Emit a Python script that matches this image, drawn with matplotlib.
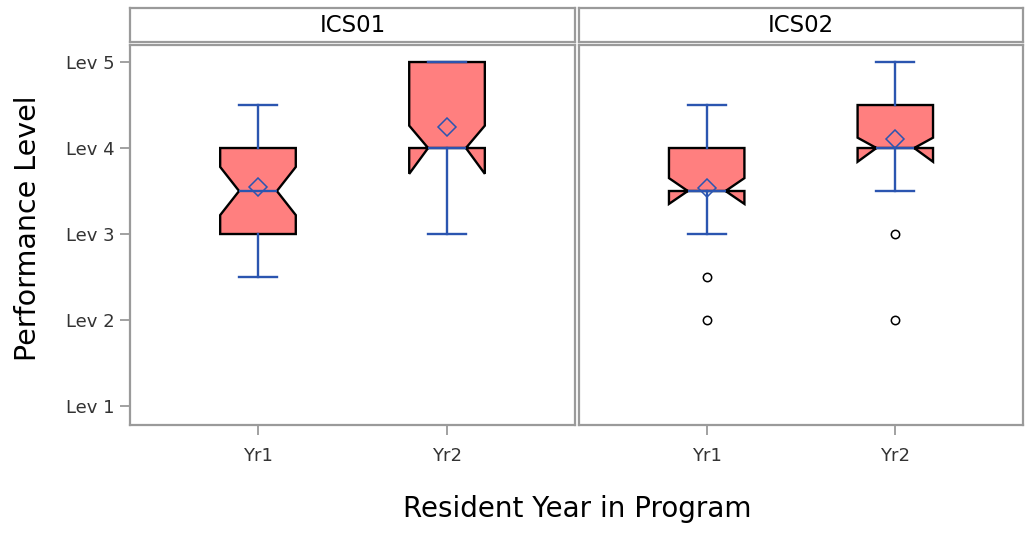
import numpy as np
import matplotlib
matplotlib.use("Agg")
import matplotlib.pyplot as plt

# summary stats
panels = ["ICS01", "ICS02"]
years = ["Yr1", "Yr2"]
lev_ticks = [1, 2, 3, 4, 5]
lev_labels = ["Lev 1", "Lev 2", "Lev 3", "Lev 4", "Lev 5"]

q1 = {"ICS01": [3.0, 4.0], "ICS02": [3.5, 4.0]}
med = {"ICS01": [3.5, 4.0], "ICS02": [3.5, 4.0]}
q3 = {"ICS01": [4.0, 5.0], "ICS02": [4.0, 4.5]}
whislo = {"ICS01": [2.5, 3.0], "ICS02": [3.0, 3.5]}
whishi = {"ICS01": [4.5, 5.0], "ICS02": [4.5, 5.0]}
means = {"ICS01": [3.55, 4.24], "ICS02": [3.53, 4.10]}
cilo = {"ICS01": [3.22, 3.70], "ICS02": [3.35, 3.84]}
cihi = {"ICS01": [3.78, 4.26], "ICS02": [3.65, 4.12]}
fliers = {"ICS01": [[], []], "ICS02": [[2.5, 2.0], [3.0, 2.0]]}

W, H = 1026, 533
fill = "#FF7F7F"
blue = "#2B55B0"
frame = "#9A9A9A"

fig = plt.figure(figsize=(W / 100, H / 100), dpi=100)
plt.rcParams['font.family'] = ['DejaVu Sans']


def px_axes(x0, y0, x1, y1):
    return fig.add_axes([x0 / W, 1 - y1 / H, (x1 - x0) / W, (y1 - y0) / H])


xs = [(130, 575), (579, 1023)]
for i, p in enumerate(panels):
    x0, x1 = xs[i]
    # header strip
    hax = px_axes(x0, 8, x1, 42)
    hax.set_xticks([])
    hax.set_yticks([])
    for s in hax.spines.values():
        s.set_color(frame)
        s.set_linewidth(1.6)
    hax.text(0.5, 0.5, p, ha="center", va="center", fontsize=16.5,
             color="black", transform=hax.transAxes)

    ax = px_axes(x0, 45, x1, 425)
    stats = []
    for j, y in enumerate(years):
        stats.append(dict(med=med[p][j], q1=q1[p][j], q3=q3[p][j],
                          whislo=whislo[p][j], whishi=whishi[p][j],
                          mean=means[p][j], cilo=cilo[p][j], cihi=cihi[p][j],
                          fliers=np.array(fliers[p][j]), label=y))
    ax.bxp(stats, positions=[1, 2], widths=0.4, shownotches=True,
           showmeans=True, patch_artist=True,
           boxprops=dict(facecolor=fill, edgecolor="black", linewidth=1.7),
           whiskerprops=dict(color=blue, linewidth=1.7),
           capprops=dict(color=blue, linewidth=1.7),
           medianprops=dict(color=blue, linewidth=1.7),
           meanprops=dict(marker="D", markersize=9, markerfacecolor="none",
                          markeredgecolor=blue, markeredgewidth=1.1),
           flierprops=dict(marker="o", markersize=6, markerfacecolor="white",
                           markeredgecolor="black", markeredgewidth=1.1))
    ax.set_xlim(0.323, 2.677)
    ax.set_ylim(0.779, 5.198)
    ax.set_xticks([1, 2])
    ax.set_xticklabels(years, fontsize=13, color="#333333")
    ax.tick_params(axis="x", length=7, color=frame, width=1.3, pad=9)
    if i == 0:
        ax.set_yticks(lev_ticks)
        ax.set_yticklabels(lev_labels, fontsize=13, color="#333333")
        ax.tick_params(axis="y", length=7, color=frame, width=1.3, pad=4)
    else:
        ax.set_yticks([])
    for s in ax.spines.values():
        s.set_color(frame)
        s.set_linewidth(1.6)

fig.text(28 / W, 1 - 228 / H, "Performance Level", rotation=90,
         ha="center", va="center", fontsize=20.5)
fig.text(577 / W, 1 - 509 / H, "Resident Year in Program",
         ha="center", va="center", fontsize=20)

fig.savefig("out.png", dpi=100)
